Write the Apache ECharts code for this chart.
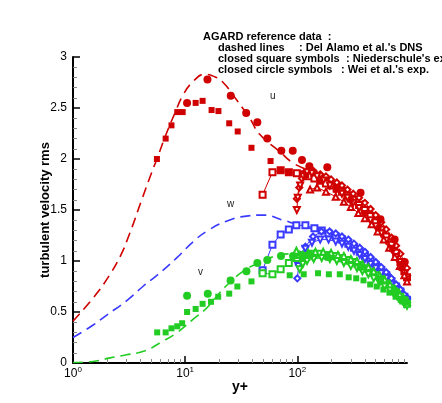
<!DOCTYPE html>
<html><head><meta charset="utf-8">
<script src="https://cdn.jsdelivr.net/npm/echarts@6/dist/echarts.min.js"></script>
<style>html,body{margin:0;padding:0;background:#fff}#c{width:442px;height:403px}</style>
</head><body><div id="c"></div>
<script>
// ---- DNS (dashed lines) ----
const dnsU = [[1,0.41],[1.57,0.66],[2,0.82],[2.62,1.04],[3.2,1.27],[4.1,1.6],[5,1.86],[5.6,2.0],[6.8,2.25],[8.1,2.45],[9.6,2.63],[11.8,2.76],[14.9,2.83],[18,2.81],[21.8,2.75],[28.7,2.58],[37.6,2.4],[46.4,2.24],[70,2.07],[92,1.96],[130,1.88],[200,1.76],[300,1.62],[400,1.5],[500,1.39],[600,1.28],[700,1.16],[800,1.04],[900,0.91],[950,0.84]];
const dnsW = [[1,0.25],[1.5,0.37],[2,0.47],[3,0.61],[4.2,0.75],[5.6,0.86],[8.4,1.03],[11.8,1.19],[16,1.3],[23.4,1.39],[35,1.44],[50,1.45],[75,1.4],[92,1.37],[130,1.32],[200,1.25],[300,1.17],[400,1.09],[500,1.01],[600,0.93],[700,0.85],[800,0.77],[900,0.7],[950,0.67]];
const dnsV = [[1,0.005],[1.5,0.015],[2.14,0.05],[3,0.08],[4.4,0.12],[6,0.2],[8.5,0.3],[11.8,0.43],[15.3,0.53],[19,0.65],[23.4,0.76],[33,0.9],[45,0.98],[65,1.05],[90,1.07],[130,1.07],[200,1.03],[300,0.97],[400,0.91],[500,0.85],[600,0.79],[700,0.73],[800,0.68],[900,0.63],[950,0.61]];
// ---- Niederschule (closed squares) ----
const sqU = [[5.6,2.0],[6.7,2.2],[7.55,2.33],[8.5,2.46],[9.5,2.46],[12.4,2.55],[14.3,2.57],[17.2,2.48],[19.8,2.47],[24.7,2.35],[29.4,2.27],[39,2.11],[57.7,1.98],[71,1.89],[84,1.87],[120,1.84],[160,1.78],[220,1.7],[300,1.6],[400,1.47],[530,1.32],[700,1.12],[850,0.93]];
const sqV = [[5.63,0.3],[6.7,0.3],[7.55,0.34],[8.5,0.36],[9.4,0.39],[10.4,0.5],[12.4,0.53],[14.3,0.58],[17,0.6],[19.7,0.65],[24.7,0.68],[29.2,0.75],[39,0.8],[85.5,0.86],[114,0.87],[153,0.88],[191,0.87],[239,0.87],[287,0.84],[335,0.83],[389,0.81],[446,0.77],[510,0.75],[585,0.72],[662,0.69],[751,0.65],[834,0.62],[921,0.59]];
// ---- Wei et al. (closed circles) ----
const ciU = [[10.4,2.55],[15.8,2.78],[25.5,2.62],[35,2.45],[44,2.36],[54,2.2],[72,2.08],[91,2.08],[110,1.99],[128,1.93],[185,1.92],[366,1.67],[551,1.41],[737,1.21],[906,0.99]];
const ciV = [[10.4,0.66],[15.9,0.68],[25.4,0.81],[35.2,0.9],[44,0.98],[54,1.01],[71.5,1.05],[91.6,1.05],[110,1.06],[130,1.06],[185,1.04],[366,0.94],[550,0.82],[737,0.71],[906,0.62]];
// ---- computed profiles (open symbols) ----
const uA = [[49,1.65],[60,1.87],[71,1.89],[84,1.87],[99,1.86],[112,1.85],[126,1.83],[142,1.81],[160,1.79],[180,1.76],[200,1.74],[225,1.71],[250,1.68],[280,1.64],[315,1.6],[355,1.55],[400,1.5],[450,1.44],[500,1.38],[560,1.31],[620,1.24],[690,1.16],[760,1.08],[830,0.99],[900,0.9],[950,0.84]];
const uB = [[99,1.61],[104,1.72],[110,1.81],[118,1.87],[128,1.89],[140,1.88],[160,1.85],[180,1.83],[200,1.8],[225,1.77],[250,1.74],[280,1.7],[315,1.66],[355,1.62],[400,1.57],[450,1.51],[500,1.45],[560,1.38],[620,1.31],[690,1.23],[760,1.15],[830,1.07],[900,0.99],[950,0.93]];
const uC = [[99,1.5],[101,1.62],[106,1.74],[113,1.83],[122,1.87],[135,1.86],[150,1.83],[170,1.79],[195,1.74],[220,1.7],[250,1.66],[280,1.62],[315,1.57],[355,1.52],[400,1.46],[450,1.4],[500,1.34],[560,1.27],[620,1.2],[690,1.12],[760,1.04],[830,0.96],[900,0.88],[950,0.82]];
const uD = [[130,1.7],[150,1.72],[180,1.68],[220,1.63],[260,1.58],[300,1.53],[350,1.47],[400,1.42],[460,1.36],[520,1.29],[590,1.21],[660,1.13],[740,1.04],[820,0.95],[900,0.86],[950,0.8]];
const wA = [[49,0.91],[60,1.16],[71,1.26],[84,1.31],[98,1.35],[118,1.35],[142,1.32],[165,1.3],[190,1.27],[220,1.24],[250,1.21],[285,1.17],[320,1.13],[360,1.09],[400,1.05],[450,1.0],[500,0.96],[560,0.91],[620,0.86],[690,0.8],[760,0.75],[830,0.7],[900,0.65],[950,0.62]];
const wB = [[100,0.83],[103,0.96],[107,1.06],[118,1.14],[138,1.24],[164,1.29],[194,1.29],[220,1.27],[250,1.24],[285,1.21],[320,1.17],[360,1.13],[400,1.09],[450,1.04],[500,0.99],[560,0.94],[620,0.89],[690,0.83],[760,0.77],[830,0.72],[900,0.67],[950,0.64]];
const wC = [[102,0.95],[108,1.05],[118,1.12],[135,1.18],[160,1.21],[190,1.21],[220,1.19],[250,1.17],[285,1.14],[320,1.1],[360,1.06],[400,1.02],[450,0.97],[500,0.93],[560,0.88],[620,0.83],[690,0.77],[760,0.72],[830,0.67],[900,0.62],[950,0.59]];
const vA = [[49,0.88],[60,0.87],[71,0.92],[84,0.98],[99,1.03],[115,1.05],[135,1.07],[160,1.07],[190,1.06],[220,1.05],[250,1.03],[285,1.01],[320,0.99],[360,0.96],[400,0.93],[450,0.89],[500,0.86],[560,0.82],[620,0.78],[690,0.73],[760,0.69],[830,0.65],[900,0.61],[950,0.58]];
const vB = [[98,1.1],[104,1.06],[112,1.06],[125,1.08],[145,1.09],[170,1.09],[200,1.08],[230,1.06],[260,1.05],[300,1.02],[340,1.0],[380,0.97],[430,0.94],[480,0.9],[540,0.86],[600,0.82],[670,0.77],[740,0.72],[820,0.67],[900,0.62],[950,0.6]];
const vC = [[105,0.92],[112,0.97],[122,1.0],[140,1.02],[165,1.03],[195,1.02],[225,1.0],[260,0.98],[300,0.95],[340,0.93],[380,0.9],[430,0.87],[480,0.83],[540,0.79],[600,0.75],[670,0.71],[740,0.67],[820,0.62],[900,0.58],[950,0.56]];

const majorX = [1, 10, 100];
const minorX = [2,3,4,5,6,7,8,9,20,30,40,50,60,70,80,90,200,300,400,500,600,700,800,900];

const RED = '#d00000', BLUE = '#3a3aff', GREEN = '#22cc22';
const FONT = '"Liberation Sans", Arial, sans-serif';

function dns(data, color) {
  return {type:'line', data, smooth:true, showSymbol:false, symbol:'none',
    lineStyle:{color, width:1.6, type:[10,6]}, z:2};
}
function prof(data, color, symbol, rot) {
  return {type:'line', data, symbol, symbolSize:6, symbolRotate:rot||0,
    itemStyle:{color, borderColor:color, borderWidth:1},
    lineStyle:{color, width:1}, z:3};
}
function pts(data, color, symbol, size) {
  return {type:'scatter', data, symbol, symbolSize:size, itemStyle:{color, opacity:1}, z:4};
}

const chart = echarts.init(document.getElementById('c'), null, {renderer:'canvas'});
chart.setOption({
  animation:false,
  backgroundColor:'#fff',
  grid:{left:73, right:35, top:57, bottom:40, containLabel:false, outerBoundsMode:'none'},
  xAxis:[{
    type:'log', logBase:10, min:1, max:950,
    axisLine:{lineStyle:{color:'#000', width:2}},
    axisTick:{inside:true, length:7, customValues:majorX, lineStyle:{color:'#000', width:1.5}},
    axisLabel:{customValues:majorX, margin:3, color:'#000',
      formatter:v=>'{b|10}{s|'+Math.round(Math.log10(v))+'}',
      rich:{b:{fontSize:12, fontFamily:FONT, color:'#000', verticalAlign:'bottom', lineHeight:14},
            s:{fontSize:8, fontFamily:FONT, color:'#000', verticalAlign:'top', lineHeight:14}}},
    splitLine:{show:false},
    name:'y+', nameLocation:'middle', nameGap:17, nameMoveOverlap:false,
    nameTextStyle:{fontWeight:'bold', fontSize:14, fontFamily:FONT, color:'#000'}
  },{
    type:'log', logBase:10, min:1, max:950, position:'bottom',
    axisLine:{show:false},
    axisTick:{inside:true, length:4, customValues:minorX, lineStyle:{color:'#888', width:1}},
    axisLabel:{show:false}, splitLine:{show:false}
  }],
  yAxis:{
    type:'value', min:0, max:3, interval:0.5,
    axisLine:{show:true, lineStyle:{color:'#000', width:2}},
    axisTick:{show:true, inside:true, length:7, lineStyle:{color:'#000', width:1.5}},
    minorTick:{show:true, splitNumber:5, length:4, lineStyle:{color:'#888', width:1}},
    axisLabel:{color:'#000', fontSize:12, fontFamily:FONT, margin:6},
    splitLine:{show:false},
    name:'turbulent velocity rms', nameLocation:'middle', nameGap:21, nameMoveOverlap:false,
    nameTextStyle:{fontWeight:'bold', fontSize:13, fontFamily:FONT, color:'#000'}
  },
  graphic:[
    {type:'text', left:203, top:31, style:{text:'AGARD reference data  :', font:'bold 11px '+FONT, fill:'#000'}},
    {type:'text', left:218, top:42, style:{text:'dashed lines', font:'bold 11px '+FONT, fill:'#000'}},
    {type:'text', left:299, top:42, style:{text:': Del Alamo et al.\'s DNS', font:'bold 11px '+FONT, fill:'#000'}},
    {type:'text', left:218, top:53, style:{text:'closed square symbols', font:'bold 11px '+FONT, fill:'#000'}},
    {type:'text', left:346, top:53, style:{text:': Niederschule\'s exp.', font:'bold 11px '+FONT, fill:'#000'}},
    {type:'text', left:218, top:64, style:{text:'closed circle symbols', font:'bold 11px '+FONT, fill:'#000'}},
    {type:'text', left:341, top:64, style:{text:': Wei et al.\'s exp.', font:'bold 11px '+FONT, fill:'#000'}},
    {type:'text', left:270, top:91, style:{text:'u', font:'10px '+FONT, fill:'#222'}},
    {type:'text', left:227, top:199, style:{text:'w', font:'10px '+FONT, fill:'#222'}},
    {type:'text', left:198, top:267, style:{text:'v', font:'10px '+FONT, fill:'#222'}}
  ],
  series:[
    dns(dnsU, RED), dns(dnsW, BLUE), dns(dnsV, GREEN),
    prof(uA, RED, 'emptyRect'), prof(uB, RED, 'emptyDiamond'), prof(uC, RED, 'emptyTriangle', 180), prof(uD, RED, 'emptyTriangle'),
    prof(wA, BLUE, 'emptyRect'), prof(wB, BLUE, 'emptyDiamond'), prof(wC, BLUE, 'emptyTriangle', 180),
    prof(vA, GREEN, 'emptyRect'), prof(vB, GREEN, 'emptyTriangle'), prof(vC, GREEN, 'emptyTriangle', 180),
    pts(sqU, RED, 'rect', 6), pts(sqV, GREEN, 'rect', 6),
    pts(ciU, RED, 'circle', 8), pts(ciV, GREEN, 'circle', 8)
  ]
});
</script></body></html>
